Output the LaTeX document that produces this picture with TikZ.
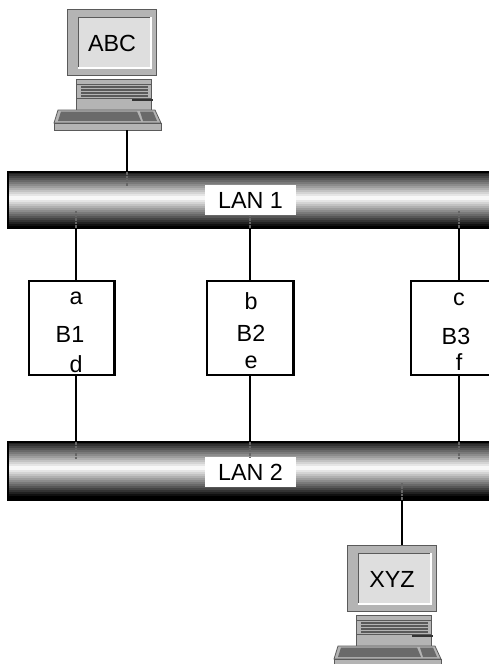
\documentclass[tikz,border=0pt]{standalone}
\usepackage{fontspec}
\setmainfont{Liberation Sans}
\usepackage{xcolor}
\usetikzlibrary{arrows.meta, positioning, calc}
\definecolor{pcbody}{HTML}{B4B4B4}
\definecolor{pcscreen}{HTML}{DEDEDE}
\definecolor{pckeys}{HTML}{6A6A6A}
\definecolor{pcedge}{HTML}{5A5A5A}
\newcommand{\lanstripes}[3]{%
  \foreach \i in {0,...,30} {
    \pgfmathsetmacro\yy{#1+2*\i}
    \pgfmathtruncatemacro\lvl{min(100,abs(\yy+1-#2)*3.5)}
    \ifdim\yy pt<#3pt
      \fill[black!\lvl] (8,\yy) rectangle (495,\yy+2.2);
    \fi
  }%
}
\tikzset{
  pics/computer/.style={code={
    \draw[pcedge, line width=0.6pt, fill=pcbody] (0,0) rectangle (89,66);
    \draw[pcedge, line width=0.6pt, fill=pcscreen] (11,8) rectangle (84,59);
    \draw[white, line width=0.8pt] (11,59) -- (84,59) -- (84,8);
    \draw[pcedge, line width=0.6pt, fill=pcbody] (9,70) rectangle (84,101);
    \draw[pcedge, line width=0.5pt] (9,75) -- (84,75);
    \foreach \v in {78,81,84,87} {
      \draw[pcedge, line width=0.9pt] (14,\v) -- (81,\v);
    }
    \draw[pcedge, line width=0.5pt] (9,89) -- (84,89);
    \draw[black!80, line width=1.2pt] (65,91) -- (86,91);
    \draw[pcedge, line width=0.6pt, fill=pcbody] (-9,101) -- (88,101) -- (94,114) -- (-13,114) -- cycle;
    \fill[pckeys] (-6,102.5) -- (70,102.5) -- (74,112) -- (-9,112) -- cycle;
    \fill[pckeys] (73,102.5) -- (86,102.5) -- (90,112) -- (76,112) -- cycle;
    \draw[pcedge, line width=0.6pt, fill=pcbody] (-13,114) rectangle (94,121);
    \node (-label) at (45,34) {#1};
    \coordinate (-top) at (55,0);
    \coordinate (-bot) at (60,121);
  }},
}

\begin{document}
\begin{tikzpicture}[
  x=0.75pt, y=-0.75pt,
  every node/.style={font=\fontsize{17.5}{20}\selectfont, inner sep=0pt, outer sep=0pt},
  lan/.style={draw=black, line width=2.2pt, anchor=north west, minimum width=390pt},
  lanlabel/.style={fill=white, minimum width=68pt, minimum height=22.5pt},
  bridge/.style={draw=black, line width=2pt, fill=white, anchor=north west,
                 minimum width=64pt, minimum height=70.5pt},
  wire/.style={line width=2.1pt, color=black},
  stub/.style={line width=2.1pt, color=black!60, dash pattern=on 2pt off 0.75pt},
]
\clip (0,0) rectangle (489,664);

% buses
\lanstripes{172}{198}{228}
\lanstripes{442}{468}{500}
\node[lan, minimum height=42pt] (lan1) at (8,172) {};
\node[lan, minimum height=43.5pt] (lan2) at (8,442) {};
\node[lanlabel] (lan1txt) at (250.5,200) {LAN 1};
\node[lanlabel] (lan2txt) at (250.5,472) {LAN 2};

% bridges
\node[bridge] (b1) at (29,281) {};
\node[bridge, minimum width=65pt] (b2) at (207,281) {};
\node[bridge, minimum width=90pt] (b3) at (411,281) {};
\node (b1a) at (76,298) {a};
\node (b1n) at (70,334) {B1};
\node (b1d) at (76,364) {d};
\node (b2b) at (251,301) {b};
\node (b2n) at (251,333) {B2};
\node (b2e) at (251,362) {e};
\node (b3c) at (459,299) {c};
\node (b3n) at (456,336) {B3};
\node (b3f) at (459,362) {f};

% computers
\pic (abc) at (67,9) {computer={ABC}};
\pic (xyz) at (347,545) {computer={XYZ}};

% connectors
\coordinate (tapa) at (76,281);
\coordinate (tapb) at (250,281);
\coordinate (tapc) at (459,281);
\coordinate (tapd) at (76,375);
\coordinate (tape) at (250,375);
\coordinate (tapf) at (459,375);
\draw[wire] (abc-bot) -- (abc-bot |- lan1.north);
\draw[wire] (tapa) -- (tapa |- lan1.south);
\draw[wire] (tapb) -- (tapb |- lan1.south);
\draw[wire] (tapc) -- (tapc |- lan1.south);
\draw[wire] (tapd) -- (tapd |- lan2.north);
\draw[wire] (tape) -- (tape |- lan2.north);
\draw[wire] (tapf) -- (tapf |- lan2.north);
\draw[wire] (xyz-top) -- (xyz-top |- lan2.south);

% taps seen through the bus
\draw[stub] (abc-bot |- lan1.north) -- ++(0,14);
\draw[stub] (tapa |- lan1.south) -- ++(0,-17);
\draw[stub] (tapb |- lan1.south) -- ++(0,-13);
\draw[stub] (tapc |- lan1.south) -- ++(0,-17);
\draw[stub] (tapd |- lan2.north) -- ++(0,18);
\draw[stub] (tape |- lan2.north) -- ++(0,15);
\draw[stub] (tapf |- lan2.north) -- ++(0,18);
\draw[stub] (xyz-top |- lan2.south) -- ++(0,-17);

\end{tikzpicture}
\end{document}
